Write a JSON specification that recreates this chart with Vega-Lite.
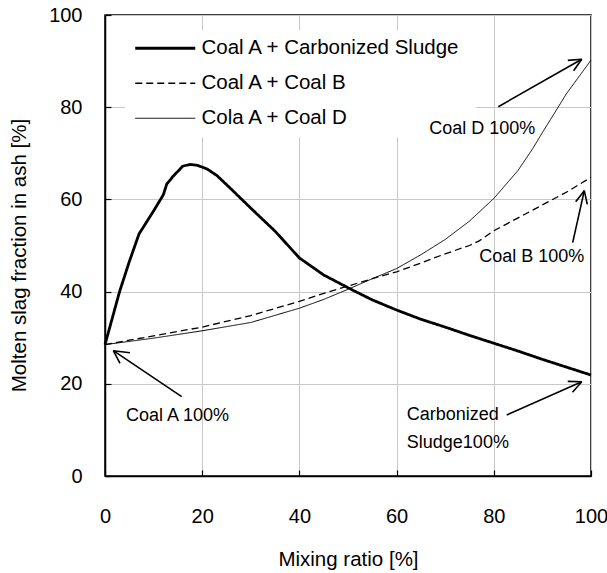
{
  "$schema": "https://vega.github.io/schema/vega-lite/v6.json",
  "width": 486,
  "height": 461,
  "autosize": {"type": "none"},
  "padding": {"left": 105, "top": 15, "right": 16, "bottom": 97},
  "background": "white",
  "config": {
    "font": "Liberation Sans, Arial, sans-serif",
    "view": {"stroke": "black", "strokeWidth": 1.5},
    "axis": {
      "domainColor": "black",
      "domainWidth": 1.5,
      "tickColor": "black",
      "tickWidth": 1.2,
      "tickSize": -6,
      "gridColor": "#c8c8c8",
      "gridWidth": 1,
      "labelFontSize": 20,
      "labelColor": "black",
      "labelFlush": false,
      "titleFontSize": 20.5,
      "titleFontWeight": "normal",
      "titleColor": "black"
    }
  },
  "datasets": {
    "legendbox": [
      {"x": 4.1, "x2": 76.3, "y": 73.5, "y2": 96.7}
    ],
    "curves": [
      {"series": "Coal A + Carbonized Sludge", "x": 0, "y": 28.5},
      {"series": "Coal A + Carbonized Sludge", "x": 3, "y": 40},
      {"series": "Coal A + Carbonized Sludge", "x": 5, "y": 46.5},
      {"series": "Coal A + Carbonized Sludge", "x": 7, "y": 52.5},
      {"series": "Coal A + Carbonized Sludge", "x": 10, "y": 57.5},
      {"series": "Coal A + Carbonized Sludge", "x": 12, "y": 61},
      {"series": "Coal A + Carbonized Sludge", "x": 12.7, "y": 63.3},
      {"series": "Coal A + Carbonized Sludge", "x": 14, "y": 65},
      {"series": "Coal A + Carbonized Sludge", "x": 16, "y": 67.2},
      {"series": "Coal A + Carbonized Sludge", "x": 17.5, "y": 67.6},
      {"series": "Coal A + Carbonized Sludge", "x": 19, "y": 67.4},
      {"series": "Coal A + Carbonized Sludge", "x": 21, "y": 66.6},
      {"series": "Coal A + Carbonized Sludge", "x": 23, "y": 65.2},
      {"series": "Coal A + Carbonized Sludge", "x": 26, "y": 62.2},
      {"series": "Coal A + Carbonized Sludge", "x": 30, "y": 58.1},
      {"series": "Coal A + Carbonized Sludge", "x": 35, "y": 53.1},
      {"series": "Coal A + Carbonized Sludge", "x": 40, "y": 47.3},
      {"series": "Coal A + Carbonized Sludge", "x": 45, "y": 43.6},
      {"series": "Coal A + Carbonized Sludge", "x": 51, "y": 40.3},
      {"series": "Coal A + Carbonized Sludge", "x": 55, "y": 38.2},
      {"series": "Coal A + Carbonized Sludge", "x": 60, "y": 36},
      {"series": "Coal A + Carbonized Sludge", "x": 65, "y": 34},
      {"series": "Coal A + Carbonized Sludge", "x": 70, "y": 32.3},
      {"series": "Coal A + Carbonized Sludge", "x": 75, "y": 30.5},
      {"series": "Coal A + Carbonized Sludge", "x": 80, "y": 28.8},
      {"series": "Coal A + Carbonized Sludge", "x": 85, "y": 27.1},
      {"series": "Coal A + Carbonized Sludge", "x": 90, "y": 25.3},
      {"series": "Coal A + Carbonized Sludge", "x": 95, "y": 23.6},
      {"series": "Coal A + Carbonized Sludge", "x": 100, "y": 21.9},
      {"series": "Coal A + Coal B", "x": 0, "y": 28.5},
      {"series": "Coal A + Coal B", "x": 10, "y": 30.4},
      {"series": "Coal A + Coal B", "x": 20, "y": 32.3},
      {"series": "Coal A + Coal B", "x": 30, "y": 34.8},
      {"series": "Coal A + Coal B", "x": 40, "y": 37.9},
      {"series": "Coal A + Coal B", "x": 45, "y": 39.6},
      {"series": "Coal A + Coal B", "x": 50, "y": 41.2},
      {"series": "Coal A + Coal B", "x": 55, "y": 42.8},
      {"series": "Coal A + Coal B", "x": 60, "y": 44.3},
      {"series": "Coal A + Coal B", "x": 65, "y": 46.2},
      {"series": "Coal A + Coal B", "x": 70, "y": 48.2},
      {"series": "Coal A + Coal B", "x": 75, "y": 50},
      {"series": "Coal A + Coal B", "x": 77, "y": 51},
      {"series": "Coal A + Coal B", "x": 80, "y": 53.2},
      {"series": "Coal A + Coal B", "x": 85, "y": 56},
      {"series": "Coal A + Coal B", "x": 90, "y": 58.8},
      {"series": "Coal A + Coal B", "x": 95, "y": 61.6},
      {"series": "Coal A + Coal B", "x": 100, "y": 64.8},
      {"series": "Cola A + Coal D", "x": 0, "y": 28.5},
      {"series": "Cola A + Coal D", "x": 10, "y": 29.9},
      {"series": "Cola A + Coal D", "x": 20, "y": 31.5},
      {"series": "Cola A + Coal D", "x": 30, "y": 33.3},
      {"series": "Cola A + Coal D", "x": 40, "y": 36.4},
      {"series": "Cola A + Coal D", "x": 45, "y": 38.3},
      {"series": "Cola A + Coal D", "x": 50, "y": 40.5},
      {"series": "Cola A + Coal D", "x": 55, "y": 42.8},
      {"series": "Cola A + Coal D", "x": 60, "y": 45},
      {"series": "Cola A + Coal D", "x": 65, "y": 48},
      {"series": "Cola A + Coal D", "x": 70, "y": 51.3},
      {"series": "Cola A + Coal D", "x": 75, "y": 55.3},
      {"series": "Cola A + Coal D", "x": 80, "y": 60.2},
      {"series": "Cola A + Coal D", "x": 85, "y": 66.3},
      {"series": "Cola A + Coal D", "x": 88, "y": 71},
      {"series": "Cola A + Coal D", "x": 90, "y": 74.5},
      {"series": "Cola A + Coal D", "x": 95, "y": 83},
      {"series": "Cola A + Coal D", "x": 100, "y": 90.2}
    ],
    "arrows": [
      {"x": 15.78, "y": 17.2, "x2": 1.71, "y2": 27.18},
      {"x": 3.09, "y": 24.45, "x2": 1.71, "y2": 27.18},
      {"x": 5.14, "y": 26.75, "x2": 1.71, "y2": 27.18},
      {"x": 80.93, "y": 80.11, "x2": 98.09, "y2": 90.39},
      {"x": 95.23, "y": 90.15, "x2": 98.09, "y2": 90.39},
      {"x": 96.42, "y": 87.92, "x2": 98.09, "y2": 90.39},
      {"x": 96.23, "y": 50.61, "x2": 98.62, "y2": 61.89},
      {"x": 96.85, "y": 59.48, "x2": 98.62, "y2": 61.89},
      {"x": 99.24, "y": 58.92, "x2": 98.62, "y2": 61.89},
      {"x": 82.65, "y": 13.23, "x2": 98.09, "y2": 20.46},
      {"x": 95.21, "y": 20.52, "x2": 98.09, "y2": 20.46},
      {"x": 96.19, "y": 18.16, "x2": 98.09, "y2": 20.46}
    ],
    "notes": [
      {"label": "Coal A 100%", "x": 4.3, "y": 13.0},
      {"label": "Coal D 100%", "x": 66.7, "y": 75.3},
      {"label": "Coal B 100%", "x": 77.0, "y": 47.5},
      {"label": "Carbonized", "x": 62.1, "y": 13.2},
      {"label": "Sludge100%", "x": 62.1, "y": 7.2}
    ]
  },
  "encoding": {
    "x": {
      "field": "x",
      "type": "quantitative",
      "scale": {"domain": [0, 100], "nice": false},
      "axis": {
        "title": "Mixing ratio [%]",
        "values": [0, 20, 40, 60, 80, 100],
        "labelPadding": 36,
        "titleY": 83,
        "titleBaseline": "middle"
      }
    },
    "y": {
      "field": "y",
      "type": "quantitative",
      "scale": {"domain": [0, 100], "nice": false},
      "axis": {
        "title": "Molten slag fraction in ash [%]",
        "values": [0, 20, 40, 60, 80, 100],
        "labelPadding": 29,
        "titleX": -86,
        "titleY": 240,
        "titleBaseline": "middle"
      }
    }
  },
  "layer": [
    {
      "data": {"name": "legendbox"},
      "mark": {"type": "rect", "fill": "white", "stroke": null},
      "encoding": {
        "x2": {"field": "x2"},
        "y2": {"field": "y2"}
      }
    },
    {
      "data": {"name": "curves"},
      "mark": {"type": "line", "color": "black"},
      "encoding": {
        "strokeDash": {
          "field": "series",
          "type": "nominal",
          "scale": {
            "domain": ["Coal A + Carbonized Sludge", "Coal A + Coal B", "Cola A + Coal D"],
            "range": [[1, 0], [7, 4], [1, 0]]
          },
          "legend": {
            "title": null,
            "orient": "none",
            "legendX": 20,
            "legendY": 13,
            "padding": 10,
            "rowPadding": 14,
            "labelFontSize": 20.5,
            "labelLimit": 500,
            "labelColor": "black",
            "labelOffset": 46,
            "symbolType": "M-1,0H5",
            "symbolSize": 400,
            "symbolStrokeColor": "black",
            "encode": {
              "symbols": {
                "update": {
                  "fill": {"value": "transparent"},
                  "stroke": {"value": "black"},
                  "strokeWidth": {"signal": "datum.value === 'Coal A + Carbonized Sludge' ? 2.8 : (datum.value === 'Coal A + Coal B' ? 1.3 : 1)"}
                }
              }
            }
          }
        },
        "strokeWidth": {
          "condition": [
            {"test": "datum.series === 'Coal A + Carbonized Sludge'", "value": 2.8},
            {"test": "datum.series === 'Coal A + Coal B'", "value": 1.3}
          ],
          "value": 1
        }
      }
    },
    {
      "data": {"name": "arrows"},
      "mark": {"type": "rule", "color": "black", "strokeWidth": 1.6},
      "encoding": {
        "x2": {"field": "x2"},
        "y2": {"field": "y2"}
      }
    },
    {
      "data": {"name": "notes"},
      "mark": {"type": "text", "align": "left", "baseline": "middle", "fontSize": 18, "color": "black"},
      "encoding": {
        "text": {"field": "label"}
      }
    }
  ]
}
